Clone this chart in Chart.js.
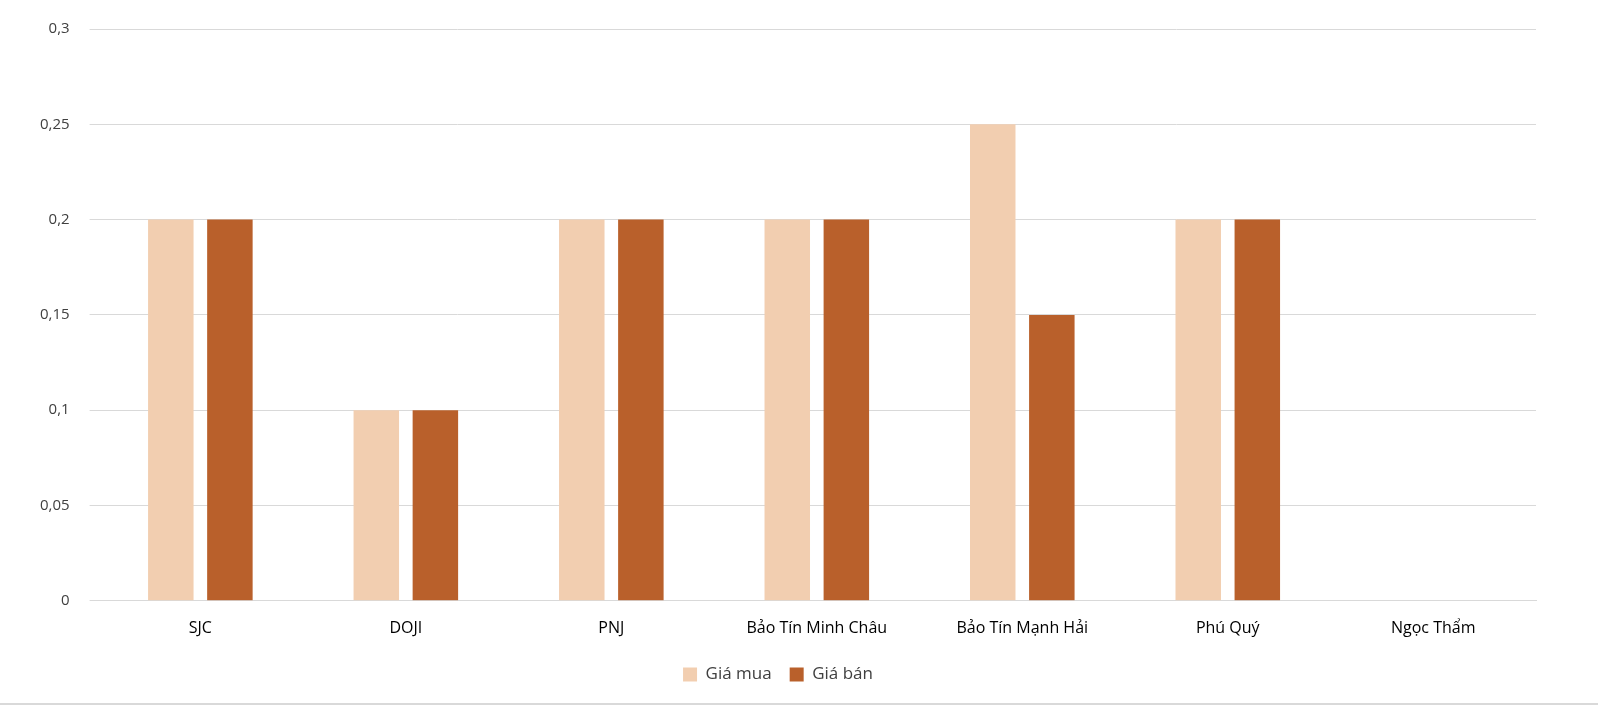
<!DOCTYPE html>
<html><head><meta charset="utf-8">
<script src="https://cdn.jsdelivr.net/npm/chart.js@4"></script>
<style>html,body{margin:0;padding:0;background:#fff}#w{width:1598px;height:703px;border-bottom:2px solid #d9d9d9}</style>
</head><body><div id="w"><canvas id="c"></canvas></div>
<script>
const categories=["SJC","DOJI","PNJ","Bảo Tín Minh Châu","Bảo Tín Mạnh Hải","Phú Quý","Ngọc Thẩm"];
const giaMua=[0.2,0.1,0.2,0.2,0.25,0.2,null];
const giaBan=[0.2,0.1,0.2,0.2,0.15,0.2,null];
const seriesNames=["Giá mua","Giá bán"];
Chart.defaults.font.family="'Open Sans', sans-serif";
Chart.defaults.color="#404040";
new Chart(document.getElementById('c'),{type:'bar',
data:{labels:categories,datasets:[
{label:seriesNames[0],data:giaMua,backgroundColor:'#F2CEB0'},
{label:seriesNames[1],data:giaBan,backgroundColor:'#B9602B'}]},
options:{responsive:true,maintainAspectRatio:false,animation:false,
layout:{padding:{left:20,right:62,top:10,bottom:10}},
categoryPercentage:0.575,barPercentage:0.77,
plugins:{legend:{position:'bottom',labels:{boxWidth:14,boxHeight:14,font:{size:17},padding:18}},tooltip:{enabled:false}},
scales:{x:{grid:{display:false},border:{color:'#d9d9d9'},ticks:{font:{size:16},padding:10,color:'#000'}},
y:{min:0,max:0.3,ticks:{stepSize:0.05,font:{size:15},padding:20,callback:v=>String(+v.toFixed(2)).replace('.',',')},
grid:{color:'#d9d9d9'},border:{display:false}}}}});
</script></body></html>
